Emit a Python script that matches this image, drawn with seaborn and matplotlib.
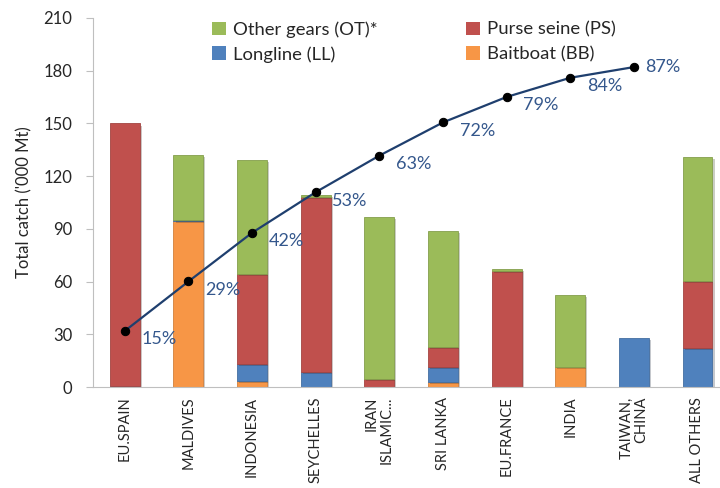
import numpy as np
import pandas as pd
import matplotlib
matplotlib.use("Agg")
import matplotlib.pyplot as plt
import matplotlib.patheffects as pe
from matplotlib.patches import Patch
import seaborn as sns

# catch by fleet and gear ('000 t)
countries = ["EU.SPAIN", "MALDIVES", "INDONESIA", "SEYCHELLES", "IRAN\nISLAMIC...",
             "SRI LANKA", "EU.FRANCE", "INDIA", "TAIWAN,\nCHINA", "ALL OTHERS"]
baitboat = [0, 94.5, 3.4, 0, 0, 3, 0, 11.2, 0, 0]
longline = [0.8, 0.6, 9.6, 8.4, 0, 8.2, 0, 0, 27.9, 22]
purse_seine = [149.2, 0, 51.5, 100, 4.5, 11.8, 66.2, 0, 0, 38.3]
other_gears = [0, 37, 64.5, 0.8, 92.5, 66, 0.9, 41.2, 0, 70.7]

# cumulative share of total catch (%)
cum_pct = [15.2, 28.6, 41.8, 52.8, 62.7, 71.7, 78.6, 83.8, 86.7]
cum_labels = ["15%", "29%", "42%", "53%", "63%", "72%", "79%", "84%", "87%"]

gears = [("Baitboat (BB)", baitboat, "#F79646"),
         ("Longline (LL)", longline, "#4F81BD"),
         ("Purse seine (PS)", purse_seine, "#C0504D"),
         ("Other gears (OT)*", other_gears, "#9BBB59")]

sns.set_style("white")
plt.rcParams["font.family"] = ["Lato", "DejaVu Sans"]

fig = plt.figure(figsize=(7.2, 4.88), dpi=100)
ax = fig.add_axes([93 / 720, 101 / 488, 636.3 / 720, 369 / 488])

df = pd.DataFrame({"country": countries})
bottom = np.zeros(len(countries))
for name, vals, col in gears:
    df[name] = vals
    sns.barplot(data=df, x="country", y=name, order=countries, bottom=bottom,
                color=col, width=0.47, edgecolor=col, linewidth=0.6,
                saturation=1, ax=ax)
    bottom = bottom + np.array(vals)

for p in ax.patches:
    if p.get_height() <= 0:
        p.set_visible(False)
        continue
    fc = p.get_facecolor()
    p.set_edgecolor(tuple(c * 0.85 for c in fc[:3]) + (1,))
    p.set_path_effects([pe.SimplePatchShadow(offset=(1.5, -1.5), alpha=0.25), pe.Normal()])

ax.set_xlim(-0.5, len(countries) - 0.5)
ax.set_ylim(0, 210)
ax.set_yticks(range(0, 211, 30))
ax.set_ylabel("Total catch ('000 Mt)", fontsize=12, color="#262626", labelpad=8)
ax.set_xlabel("")
ax.set_xticks(range(len(countries)))
ax.set_xticklabels(countries, rotation=90, va="top", ha="center",
                   multialignment="right", fontsize=10.5, color="#262626",
                   linespacing=1.05)
ax.set_xticks(np.arange(-0.5, len(countries), 1), minor=True)
ax.tick_params(axis="x", which="major", length=0, pad=7)
ax.tick_params(axis="x", which="minor", length=6, color="#BFBFBF", width=0.8)
ax.tick_params(axis="y", length=5, color="#BFBFBF", width=0.8, pad=10,
               labelsize=12, labelcolor="#262626")
for s in ["top", "right"]:
    ax.spines[s].set_visible(False)
for s in ["left", "bottom"]:
    ax.spines[s].set_color("#BFBFBF")
    ax.spines[s].set_linewidth(0.8)

# cumulative line on a hidden secondary axis (0-100%)
ax2 = ax.twinx()
xs = np.arange(len(cum_pct))
sns.lineplot(x=xs, y=cum_pct, ax=ax2, color="#1F3F6E", linewidth=1.6,
             marker="o", markersize=6, markerfacecolor="black",
             markeredgecolor="black")
ax2.set_ylim(0, 100)
ax2.set_xlim(ax.get_xlim())
ax2.axis("off")
for i, (x, y, lab) in enumerate(zip(xs, cum_pct, cum_labels)):
    off = (8, 0) if i == len(xs) - 1 else (12, -6)
    ax2.annotate(lab, (x, y), xytext=off, textcoords="offset points",
                 ha="left", va="center", fontsize=13, color="#34578C")

handles = [Patch(facecolor=c, edgecolor="none", label=n) for n, _, c in gears]
order = [3, 1, 2, 0]
fig.legend([handles[i] for i in order], [gears[i][0] for i in order],
           loc="upper left", bbox_to_anchor=(203 / 720, 1 - 12 / 488),
           ncol=2, frameon=False, fontsize=13.3, handlelength=0.75,
           handleheight=0.75, handletextpad=0.4, columnspacing=4.75,
           labelspacing=0.45, borderpad=0, labelcolor="#262626")

fig.savefig("out.png", dpi=100)
